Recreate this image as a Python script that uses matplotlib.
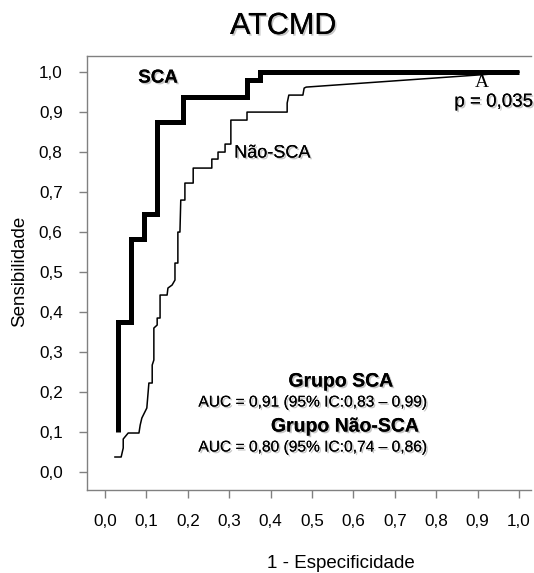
#!/usr/bin/env python3
"""ROC curves ATCMD: SCA vs Nao-SCA"""
import matplotlib
matplotlib.use("Agg")
import matplotlib.pyplot as plt
import matplotlib.patheffects as pe

plt.rcParams['font.family'] = ['Liberation Sans', 'DejaVu Sans']

# ROC corner points (1 - especificidade, sensibilidade)
fpr_sca = [0.031, 0.031, 0.0625, 0.0625, 0.094, 0.094, 0.125, 0.125,
           0.1875, 0.1875, 0.344, 0.344, 0.375, 0.375, 1.0]
tpr_sca = [0.10, 0.375, 0.375, 0.583, 0.583, 0.646, 0.646, 0.875,
           0.875, 0.9375, 0.9375, 0.979, 0.979, 1.0, 1.0]

fpr_nsca = [0.024, 0.039, 0.044, 0.044, 0.056, 0.082, 0.085, 0.089,
            0.101, 0.106, 0.114, 0.114, 0.118, 0.118, 0.126, 0.126,
            0.133, 0.133, 0.150, 0.152, 0.162, 0.169, 0.169, 0.176,
            0.176, 0.181, 0.183, 0.193, 0.193, 0.213, 0.213, 0.258,
            0.258, 0.273, 0.273, 0.290, 0.290, 0.304, 0.304, 0.343,
            0.343, 0.440, 0.440, 0.444, 0.478, 0.481, 0.486, 1.0]
tpr_nsca = [0.0375, 0.0375, 0.06, 0.0825, 0.0975, 0.0975, 0.1175, 0.135,
            0.16, 0.2225, 0.2225, 0.2675, 0.28, 0.36, 0.3675, 0.385,
            0.385, 0.4425, 0.4425, 0.46, 0.4675, 0.48, 0.5225, 0.5225,
            0.60, 0.60, 0.68, 0.68, 0.7225, 0.7225, 0.76, 0.76,
            0.7825, 0.7825, 0.80, 0.80, 0.82, 0.82, 0.88, 0.88,
            0.90, 0.90, 0.9225, 0.9425, 0.9425, 0.96, 0.9625, 1.0]

ticks = [0.0, 0.1, 0.2, 0.3, 0.4, 0.5, 0.6, 0.7, 0.8, 0.9, 1.0]
tick_labels = ["0,0", "0,1", "0,2", "0,3", "0,4", "0,5",
               "0,6", "0,7", "0,8", "0,9", "1,0"]

shadow = [pe.withSimplePatchShadow(offset=(1.2, -1.2),
                                   shadow_rgbFace='#a0a0a0', alpha=0.6),
          pe.Normal()]

fig = plt.figure(figsize=(5.34, 5.73), dpi=100)
ax = fig.add_axes([87 / 534, 1 - 490 / 573, 444 / 534, (490 - 55.7) / 573])

ax.plot(fpr_nsca, tpr_nsca, color='black', lw=1.1)
ax.plot(fpr_sca, tpr_sca, color='black', lw=3.6, solid_capstyle='butt',
        solid_joinstyle='miter')

ax.set_xlim(-0.0435, 1.029)
ax.set_ylim(-0.045, 1.041)
ax.set_xticks(ticks)
ax.set_xticklabels(tick_labels, fontsize=12.3)
ax.set_yticks(ticks)
ax.set_yticklabels(tick_labels, fontsize=12.3)

ax.spines['right'].set_visible(False)
for s in ['left', 'top', 'bottom']:
    ax.spines[s].set_color('#808080')
    ax.spines[s].set_linewidth(1.0)
ax.tick_params(axis='both', direction='out', length=6, width=1.0,
               color='#808080', labelcolor='black')
ax.tick_params(axis='y', pad=11.5)
ax.tick_params(axis='x', pad=11)

# annotations
ax.text(0.128, 0.985, "SCA", fontsize=13.5, fontweight='bold',
        ha='center', va='center', path_effects=shadow)
ax.text(0.312, 0.7975, "Não-SCA", fontsize=13, ha='left', va='center',
        path_effects=shadow)
ax.text(1.034, 0.925, "p = 0,035", fontsize=13.5, ha='right', va='center',
        clip_on=False, path_effects=shadow)
ax.text(0.911, 0.962, "Ä", fontsize=14, family='Liberation Serif',
        ha='center', va='baseline', zorder=4)

ax.text(0.57, 0.225, "Grupo SCA", fontsize=14, fontweight='bold',
        ha='center', va='center', path_effects=shadow)
ax.text(0.5, 0.175, "AUC = 0,91 (95% IC:0,83 – 0,99)", fontsize=11.2,
        ha='center', va='center', path_effects=shadow)
ax.text(0.58, 0.1125, "Grupo Não-SCA", fontsize=14, fontweight='bold',
        ha='center', va='center', path_effects=shadow)
ax.text(0.5, 0.0625, "AUC = 0,80 (95% IC:0,74 – 0,86)", fontsize=11.2,
        ha='center', va='center', path_effects=shadow)

fig.text(283 / 534, 1 - 26 / 573, "ATCMD", fontsize=22, ha='center',
         va='center', path_effects=shadow)
fig.text(341 / 534, 1 - 564 / 573, "1 - Especificidade", fontsize=13.5,
         ha='center', va='center')
fig.text(20 / 534, 1 - 271 / 573, "Sensibilidade", fontsize=13.5,
         rotation=90, ha='center', va='center')

fig.savefig("out.png", dpi=100)
